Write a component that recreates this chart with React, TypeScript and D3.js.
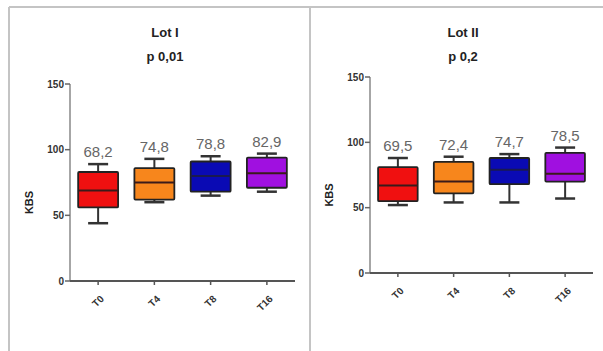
import React from 'react';
import * as d3 from 'd3';

const categories = ['T0', 'T4', 'T8', 'T16'];
const colors = ['#f01010', '#f7861c', '#0a0ab4', '#a010e0'];
const yTicks = [0, 50, 100, 150];

// Lot I
const lot1Min = [44, 60, 65, 68];
const lot1Q1 = [56, 62, 68, 71];
const lot1Median = [69, 75, 80, 82];
const lot1Q3 = [83, 86, 91, 94];
const lot1Max = [89, 93, 95, 97];
const lot1Means = ['68,2', '74,8', '78,8', '82,9'];

// Lot II
const lot2Min = [52, 54, 54, 57];
const lot2Q1 = [55, 61, 68, 70];
const lot2Median = [67, 70, 79, 76];
const lot2Q3 = [81, 85, 88, 92];
const lot2Max = [88, 89, 91, 96];
const lot2Means = ['69,5', '72,4', '74,7', '78,5'];

const font = '"Liberation Sans", Arial, sans-serif';

function Panel({ title, pLabel, x0, x1, yTop, yBottom, mins, q1s, medians, q3s, maxs, means, titleX }) {
  const x = d3.scaleBand().domain(categories).range([x0, x1]).padding(0);
  const y = d3.scaleLinear().domain([0, 150]).range([yBottom, yTop]);
  const boxW = x.step() * 0.71;
  const capW = 20;

  return (
    <g>
      <text x={titleX} y={37} textAnchor="middle" fontFamily={font} fontWeight="bold" fontSize={13} fill="#222">{title}</text>
      <text x={titleX} y={61} textAnchor="middle" fontFamily={font} fontWeight="bold" fontSize={13} fill="#222">{pLabel}</text>

      {/* y axis */}
      <line x1={x0} x2={x0} y1={y(150)} y2={y(0)} stroke="#888" strokeWidth={1.5} />
      {yTicks.map(t => (
        <g key={t} transform={`translate(${x0},${y(t)})`}>
          <line x1={-5} x2={0} stroke="#666" strokeWidth={1.5} />
          <text x={-6} dy="0.35em" textAnchor="end" fontFamily={font} fontWeight="bold" fontSize={10} fill="#333">{t}</text>
        </g>
      ))}
      <text transform={`translate(${x0 - 37},${(y(0) + y(150)) / 2 + 20}) rotate(-90)`} textAnchor="middle"
        fontFamily={font} fontWeight="bold" fontSize={11} fill="#222">KBS</text>

      {/* x axis */}
      <line x1={x0} x2={x1} y1={y(0)} y2={y(0)} stroke="#555" strokeWidth={2} />
      {categories.map(c => {
        const cx = x(c) + x.bandwidth() / 2;
        return (
          <g key={c}>
            <line x1={cx} x2={cx} y1={y(0)} y2={y(0) + 4} stroke="#555" strokeWidth={1.5} />
            <text transform={`translate(${cx + 4},${y(0) + 16}) rotate(-45)`} textAnchor="end" dy="0.35em"
              fontFamily={font} fontWeight="bold" fontSize={10} fill="#333">{c}</text>
          </g>
        );
      })}

      {/* boxes */}
      {categories.map((c, i) => {
        const cx = x(c) + x.bandwidth() / 2;
        return (
          <g key={c}>
            <line x1={cx} x2={cx} y1={y(maxs[i])} y2={y(q3s[i])} stroke="#333" strokeWidth={2} />
            <line x1={cx} x2={cx} y1={y(q1s[i])} y2={y(mins[i])} stroke="#333" strokeWidth={2} />
            <line x1={cx - capW / 2} x2={cx + capW / 2} y1={y(maxs[i])} y2={y(maxs[i])} stroke="#333" strokeWidth={2.5} />
            <line x1={cx - capW / 2} x2={cx + capW / 2} y1={y(mins[i])} y2={y(mins[i])} stroke="#333" strokeWidth={2.5} />
            <rect x={cx - boxW / 2} y={y(q3s[i])} width={boxW} height={y(q1s[i]) - y(q3s[i])}
              fill={colors[i]} stroke="#222" strokeWidth={1.8} rx={1} />
            <line x1={cx - boxW / 2} x2={cx + boxW / 2} y1={y(medians[i])} y2={y(medians[i])}
              stroke={i === 2 ? '#1a1a50' : '#3a1a1a'} strokeWidth={2} />
            <text x={cx} y={y(maxs[i]) - 7} textAnchor="middle" fontFamily={font} fontSize={15} fill="#666">{means[i]}</text>
          </g>
        );
      })}
    </g>
  );
}

export default function App() {
  return (
    <div style={{ position: 'absolute', left: 0, top: 0 }}>
      <svg width={603} height={351} style={{ display: 'block', background: '#fff' }}>
        <line x1={9} x2={603} y1={7} y2={7} stroke="#c4c4c4" strokeWidth={2} />
        <line x1={9} x2={9} y1={7} y2={351} stroke="#c4c4c4" strokeWidth={2} />
        <line x1={310} x2={310} y1={7} y2={351} stroke="#c4c4c4" strokeWidth={2} />
        <Panel title="Lot I" pLabel="p 0,01" titleX={165} x0={70} x1={295} yTop={84} yBottom={281}
          mins={lot1Min} q1s={lot1Q1} medians={lot1Median} q3s={lot1Q3} maxs={lot1Max} means={lot1Means} />
        <Panel title="Lot II" pLabel="p 0,2" titleX={463} x0={370} x1={593} yTop={77} yBottom={273}
          mins={lot2Min} q1s={lot2Q1} medians={lot2Median} q3s={lot2Q3} maxs={lot2Max} means={lot2Means} />
      </svg>
    </div>
  );
}
